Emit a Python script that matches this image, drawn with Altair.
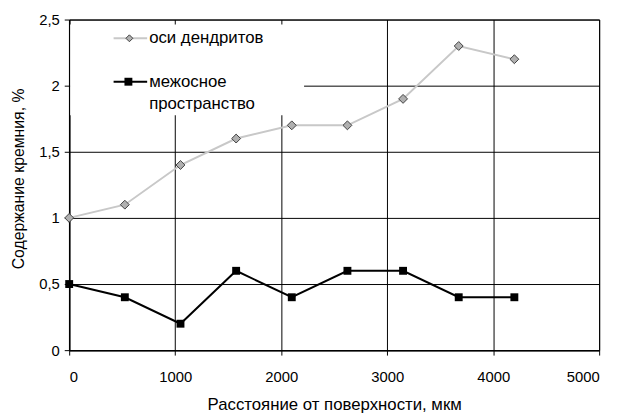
import altair as alt
import pandas as pd

distance = [0, 525, 1050, 1575, 2100, 2625, 3150, 3675, 4200]
axes_si = [1.0, 1.1, 1.4, 1.6, 1.7, 1.7, 1.9, 2.3, 2.2]
inter_si = [0.5, 0.4, 0.2, 0.6, 0.4, 0.6, 0.6, 0.4, 0.4]
series_names = ["оси дендритов", "межосное", "пространство"]

df_a = pd.DataFrame({"x": distance, "y": axes_si})
df_b = pd.DataFrame({"x": distance, "y": inter_si})
df_one = pd.DataFrame({"k": [0]})

FONT = "Liberation Sans"

xenc = alt.X("x:Q", scale=alt.Scale(domain=[0, 5000], nice=False),
             axis=alt.Axis(values=[0, 1000, 2000, 3000, 4000, 5000], format="d",
                           title="Расстояние от поверхности, мкм",
                           titleFontSize=17, titlePadding=12))
yenc = alt.Y("y:Q", scale=alt.Scale(domain=[0, 2.5], nice=False),
             axis=alt.Axis(values=[0, 0.5, 1, 1.5, 2, 2.5],
                           labelExpr="replace(format(datum.value, '.1~f'), '.', ',')",
                           title="Содержание кремния, %",
                           titleFontSize=16, titlePadding=12, titleY=161))

line_a = alt.Chart(df_a).mark_line(color="#c8c8c8", strokeWidth=2).encode(x=xenc, y=yenc)
pts_a = alt.Chart(df_a).mark_point(shape="diamond", size=81, filled=True, fill="#b0b0b0",
                                   stroke="#404040", strokeWidth=1, opacity=1).encode(x="x:Q", y="y:Q")
line_b = alt.Chart(df_b).mark_line(color="#000000", strokeWidth=2).encode(x="x:Q", y="y:Q")
pts_b = alt.Chart(df_b).mark_point(shape="square", size=64, filled=True, color="#000000",
                                   opacity=1).encode(x="x:Q", y="y:Q")

# manual legend (single-row data so each item is drawn once)
leg = alt.Chart(df_one)
leg_box = leg.mark_rect(fill="white").encode(
    x=alt.value(1), x2=alt.value(238), y=alt.value(5), y2=alt.value(97))
leg_line_a = leg.mark_rule(color="#c8c8c8", strokeWidth=2).encode(
    x=alt.value(45), x2=alt.value(79), y=alt.value(19))
leg_pt_a = leg.mark_point(shape="diamond", size=49, filled=True, fill="#b0b0b0",
                          stroke="#404040", strokeWidth=1, opacity=1).encode(
    x=alt.value(61), y=alt.value(19))
leg_txt_a = leg.mark_text(align="left", baseline="middle", font=FONT, fontSize=17,
                          color="#000000").encode(
    x=alt.value(81), y=alt.value(19), text=alt.value(series_names[0]))
leg_line_b = leg.mark_rule(color="#000000", strokeWidth=2).encode(
    x=alt.value(45), x2=alt.value(79), y=alt.value(63))
leg_pt_b = leg.mark_point(shape="square", size=64, filled=True, color="#000000",
                          opacity=1).encode(x=alt.value(60), y=alt.value(63))
leg_txt_b1 = leg.mark_text(align="left", baseline="middle", font=FONT, fontSize=17,
                           color="#000000").encode(
    x=alt.value(81), y=alt.value(63), text=alt.value(series_names[1]))
leg_txt_b2 = leg.mark_text(align="left", baseline="middle", font=FONT, fontSize=17,
                           color="#000000").encode(
    x=alt.value(81), y=alt.value(86), text=alt.value(series_names[2]))

chart = alt.layer(
    line_a, pts_a, line_b, pts_b,
    leg_box, leg_line_a, leg_pt_a, leg_txt_a, leg_line_b, leg_pt_b, leg_txt_b1, leg_txt_b2,
).properties(
    width=537, height=335,
    autosize=alt.AutoSizeParams(type="none"),
    padding={"left": 62, "top": 9, "right": 12, "bottom": 62},
).configure_view(
    stroke="#000000", strokeWidth=1
).configure_axis(
    grid=True, gridColor="#000000", gridWidth=1, gridOpacity=1,
    domainColor="#000000", domainWidth=1.5,
    tickColor="#000000", tickSize=5, tickWidth=1,
    labelFont=FONT, labelFontSize=15, labelColor="#000000",
    titleFont=FONT, titleFontWeight="normal", titleColor="#000000",
).configure_axisX(
    labelPadding=15
).configure_axisY(
    labelPadding=5
)

chart.save("out.html", embed_options={"renderer": "svg", "actions": False})
